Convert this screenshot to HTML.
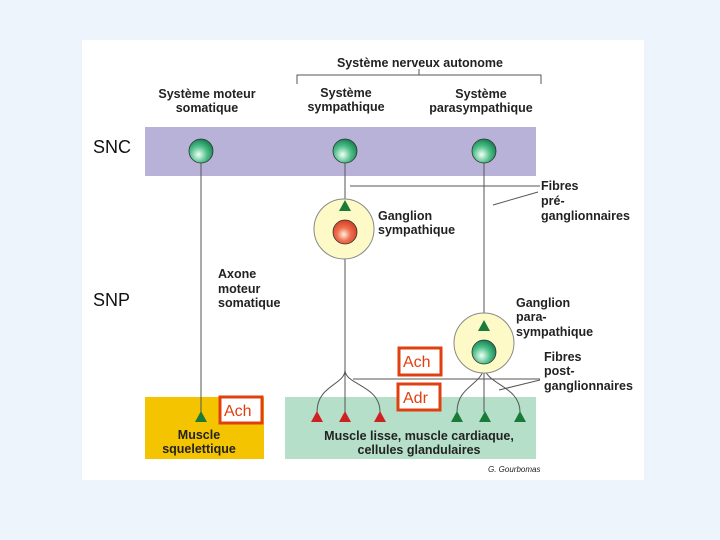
<!DOCTYPE html>
<html><head><style>
body{margin:0;width:720px;height:540px;background:#eef4fb;font-family:"Liberation Sans",sans-serif;}
svg{display:block}
text{font-family:"Liberation Sans",sans-serif;font-weight:bold;font-size:12.5px;fill:#222}
</style></head><body>
<svg width="720" height="540" viewBox="0 0 720 540">
<defs>
<radialGradient id="g" cx="0.4" cy="0.65" r="0.7"><stop offset="0" stop-color="#f4fff8"/><stop offset="0.5" stop-color="#4fc08a"/><stop offset="1" stop-color="#0c7a4a"/></radialGradient>
<radialGradient id="r" cx="0.45" cy="0.6" r="0.7"><stop offset="0" stop-color="#fff0e0"/><stop offset="0.4" stop-color="#f07050"/><stop offset="1" stop-color="#c83018"/></radialGradient>
</defs>
<rect x="82" y="40" width="562" height="440" fill="#fff"/>
<rect x="145" y="127" width="391" height="49" fill="#b9b2d8"/>
<rect x="145" y="397" width="119" height="62" fill="#f5c400"/>
<rect x="285" y="397" width="251" height="62" fill="#b5dfc9"/>
<g fill="none" stroke="#555" stroke-width="1">
<path d="M297 84V75H541V84M419 75V69"/>
<path d="M201 163V412"/>
<path d="M345 163V200M345 245V370M345 370V412M345 370C345 385 317 385 317 412M345 370C345 385 380 385 380 412"/>
<path d="M484 163V325M484 365V412M484 365C484 385 457 385 457 412M484 365C484 385 520 385 520 412"/>
<path d="M350 186H540M493 205L538 192"/>
<path d="M353 379H540M499 390L540 380"/>
</g>
<circle cx="344" cy="229" r="30" fill="#fdfac8" stroke="#888"/>
<circle cx="484" cy="343" r="30" fill="#fdfac8" stroke="#888"/>
<g stroke="#333" stroke-width="0.8">
<circle cx="201" cy="151" r="12" fill="url(#g)"/>
<circle cx="345" cy="151" r="12" fill="url(#g)"/>
<circle cx="484" cy="151" r="12" fill="url(#g)"/>
<circle cx="345" cy="232" r="12" fill="url(#r)"/>
<circle cx="484" cy="352" r="12" fill="url(#g)"/>
</g>
<g fill="#1a7a3a">
<path d="M345 200L351 211H339Z"/><path d="M484 320L490 331H478Z"/>
<path d="M201 411L207 422H195Z"/>
<path d="M457 411L463 422H451Z"/><path d="M485 411L491 422H479Z"/><path d="M520 411L526 422H514Z"/>
</g>
<g fill="#cc2222">
<path d="M317 411L323 422H311Z"/><path d="M345 411L351 422H339Z"/><path d="M380 411L386 422H374Z"/>
</g>
<g fill="#fff" stroke="#e04010" stroke-width="3">
<rect x="220" y="397" width="42" height="26"/>
<rect x="399" y="348" width="42" height="27"/>
<rect x="398" y="384" width="42" height="26"/>
</g>
<text x="224" y="416" style="font-weight:normal;font-size:16px;fill:#e04010">Ach</text>
<text x="403" y="367" style="font-weight:normal;font-size:16px;fill:#e04010">Ach</text>
<text x="403" y="403" style="font-weight:normal;font-size:16px;fill:#e04010">Adr</text>
<text x="420" y="67" text-anchor="middle">Système nerveux autonome</text>
<text x="207" y="98" text-anchor="middle">Système moteur</text>
<text x="207" y="112" text-anchor="middle">somatique</text>
<text x="346" y="97" text-anchor="middle">Système</text>
<text x="346" y="111" text-anchor="middle">sympathique</text>
<text x="481" y="98" text-anchor="middle">Système</text>
<text x="481" y="112" text-anchor="middle">parasympathique</text>
<text x="93" y="153" style="font-size:18px;font-weight:normal;fill:#111">SNC</text>
<text x="93" y="306" style="font-size:18px;font-weight:normal;fill:#111">SNP</text>
<text x="378" y="220">Ganglion</text>
<text x="378" y="234">sympathique</text>
<text x="541" y="190">Fibres</text>
<text x="541" y="205">pré-</text>
<text x="541" y="220">ganglionnaires</text>
<text x="218" y="278">Axone</text>
<text x="218" y="293">moteur</text>
<text x="218" y="307">somatique</text>
<text x="516" y="307">Ganglion</text>
<text x="516" y="321">para-</text>
<text x="516" y="336">sympathique</text>
<text x="544" y="361">Fibres</text>
<text x="544" y="375">post-</text>
<text x="544" y="390">ganglionnaires</text>
<text x="199" y="439" text-anchor="middle">Muscle</text>
<text x="199" y="453" text-anchor="middle">squelettique</text>
<text x="419" y="440" text-anchor="middle">Muscle lisse, muscle cardiaque,</text>
<text x="419" y="454" text-anchor="middle">cellules glandulaires</text>
<text x="488" y="472" style="font-size:8px;font-weight:normal;font-style:italic">G. Gourbomas</text>
</svg>
</body></html>
